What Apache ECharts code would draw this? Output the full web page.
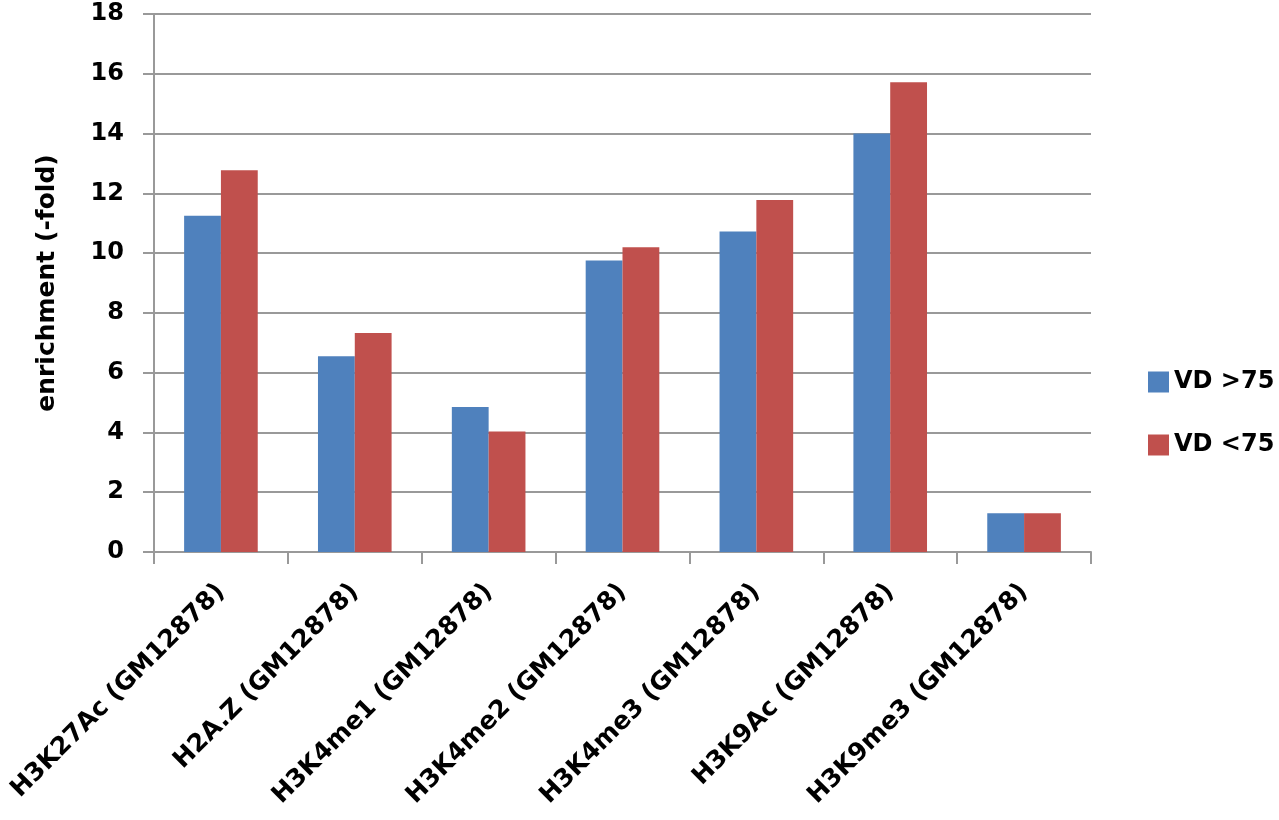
<!DOCTYPE html>
<html>
<head>
<meta charset="utf-8">
<script src="https://cdn.jsdelivr.net/npm/echarts@6/dist/echarts.min.js"></script>
<style>
html,body{margin:0;padding:0;background:#fff;}
#chart{width:1279px;height:820px;}
</style>
</head>
<body>
<div id="chart"></div>
<script>
const categories = ['H3K27Ac (GM12878)','H2A.Z (GM12878)','H3K4me1 (GM12878)','H3K4me2 (GM12878)','H3K4me3 (GM12878)','H3K9Ac (GM12878)','H3K9me3 (GM12878)'];
const seriesNames = ['VD >75','VD <75'];
const vdAbove75 = [11.25, 6.55, 4.85, 9.75, 10.72, 14.0, 1.3];
const vdBelow75 = [12.77, 7.33, 4.03, 10.2, 11.78, 15.72, 1.3];
const yTicks = {min: 0, max: 18, interval: 2};

const font = 'DejaVu Sans';
const chart = echarts.init(document.getElementById('chart'));
chart.setOption({
  animation: false,
  backgroundColor: '#ffffff',
  color: ['#4F81BD', '#C0504D'],
  textStyle: {fontFamily: font},
  grid: {left: 154, right: 188, top: 14, bottom: 268, containLabel: false, outerBoundsMode: 'none'},
  legend: {
    orient: 'vertical',
    left: 1148, top: 369,
    padding: 0,
    itemWidth: 21, itemHeight: 21, itemGap: 37,
    icon: 'rect',
    textStyle: {fontFamily: font, fontSize: 24, fontWeight: 'bold', color: '#000', lineHeight: 26},
    data: seriesNames
  },
  xAxis: {
    type: 'category',
    data: categories,
    axisLine: {lineStyle: {color: '#999', width: 2}},
    axisTick: {show: true, length: 12, lineStyle: {color: '#999', width: 2}},
    axisLabel: {rotate: 45, fontFamily: font, fontSize: 25, fontWeight: 'bold', color: '#000', margin: 36, interval: 0}
  },
  yAxis: {
    type: 'value',
    min: yTicks.min, max: yTicks.max, interval: yTicks.interval,
    name: 'enrichment (-fold)',
    nameLocation: 'middle',
    nameGap: 94,
    nameTextStyle: {fontFamily: font, fontSize: 25, fontWeight: 'bold', color: '#000'},
    axisLine: {show: true, lineStyle: {color: '#999', width: 2}},
    axisTick: {show: true, length: 11, lineStyle: {color: '#999', width: 2}},
    axisLabel: {fontFamily: font, fontSize: 24, fontWeight: 'bold', color: '#000', margin: 30},
    splitLine: {lineStyle: {color: '#999', width: 2}}
  },
  series: [
    {name: seriesNames[0], type: 'bar', data: vdAbove75, barGap: '0%', barCategoryGap: '45%'},
    {name: seriesNames[1], type: 'bar', data: vdBelow75, barGap: '0%', barCategoryGap: '45%'}
  ]
});
</script>
</body>
</html>
